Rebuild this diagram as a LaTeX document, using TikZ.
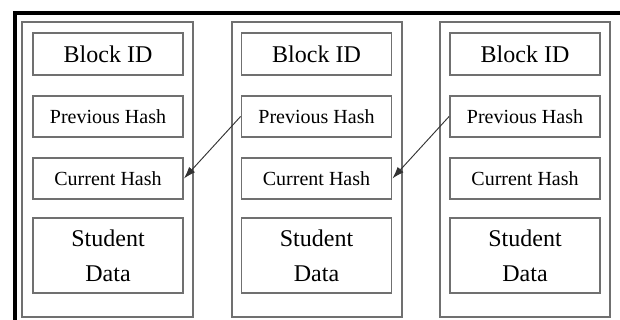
\documentclass[tikz,border=0pt]{standalone}
\usepackage{fontspec}
\setmainfont{Liberation Serif}
\usepackage{tikz}
\usetikzlibrary{arrows.meta}
\definecolor{boxgray}{RGB}{112,112,112}
\newcommand{\bigtxt}{\fontsize{18}{26}\selectfont}
\newcommand{\smalltxt}{\fontsize{15}{18}\selectfont}
\tikzset{
  block/.style={draw=boxgray, line width=1.4pt, minimum width=128pt, minimum height=221pt, inner sep=0pt},
  field/.style={draw=boxgray, line width=1.4pt, minimum width=112.5pt, minimum height=31pt, inner sep=0pt, font=\smalltxt},
  idfield/.style={field, font=\bigtxt},
  datafield/.style={field, minimum height=56pt, align=center, font=\bigtxt},
  link/.style={draw=black!80, line width=0.7pt, -{Latex[length=9pt,width=6pt]}}
}

\begin{document}
\begin{tikzpicture}[x=0.75pt,y=-0.75pt]
\useasboundingbox (0,0) rectangle (620,320);
\draw[black, line width=3pt] (15,340) -- (15,13.5) -- (640,13.5);

% first block
\node[block] (blk1) at (107.5,169.5) {};
\node[idfield] (id1) at (108,54) {Block ID};
\node[field] (pr1) at (108,116.5) {Previous Hash};
\node[field] (cu1) at (108,178.5) {Current Hash};
\node[datafield] (sd1) at (108,255.5) {Student\\Data};

% second block
\node[block] (blk2) at (317,169.5) {};
\node[idfield] (id2) at (316.5,54) {Block ID};
\node[field] (pr2) at (316.5,116.5) {Previous Hash};
\node[field] (cu2) at (316.5,178.5) {Current Hash};
\node[datafield] (sd2) at (316.5,255.5) {Student\\Data};

% third block
\node[block] (blk3) at (525,169.5) {};
\node[idfield] (id3) at (525,54) {Block ID};
\node[field] (pr3) at (525,116.5) {Previous Hash};
\node[field] (cu3) at (525,178.5) {Current Hash};
\node[datafield] (sd3) at (525,255.5) {Student\\Data};

\draw[link] (pr2.west) -- (cu1.east);
\draw[link] (pr3.west) -- (cu2.east);

\end{tikzpicture}
\end{document}
